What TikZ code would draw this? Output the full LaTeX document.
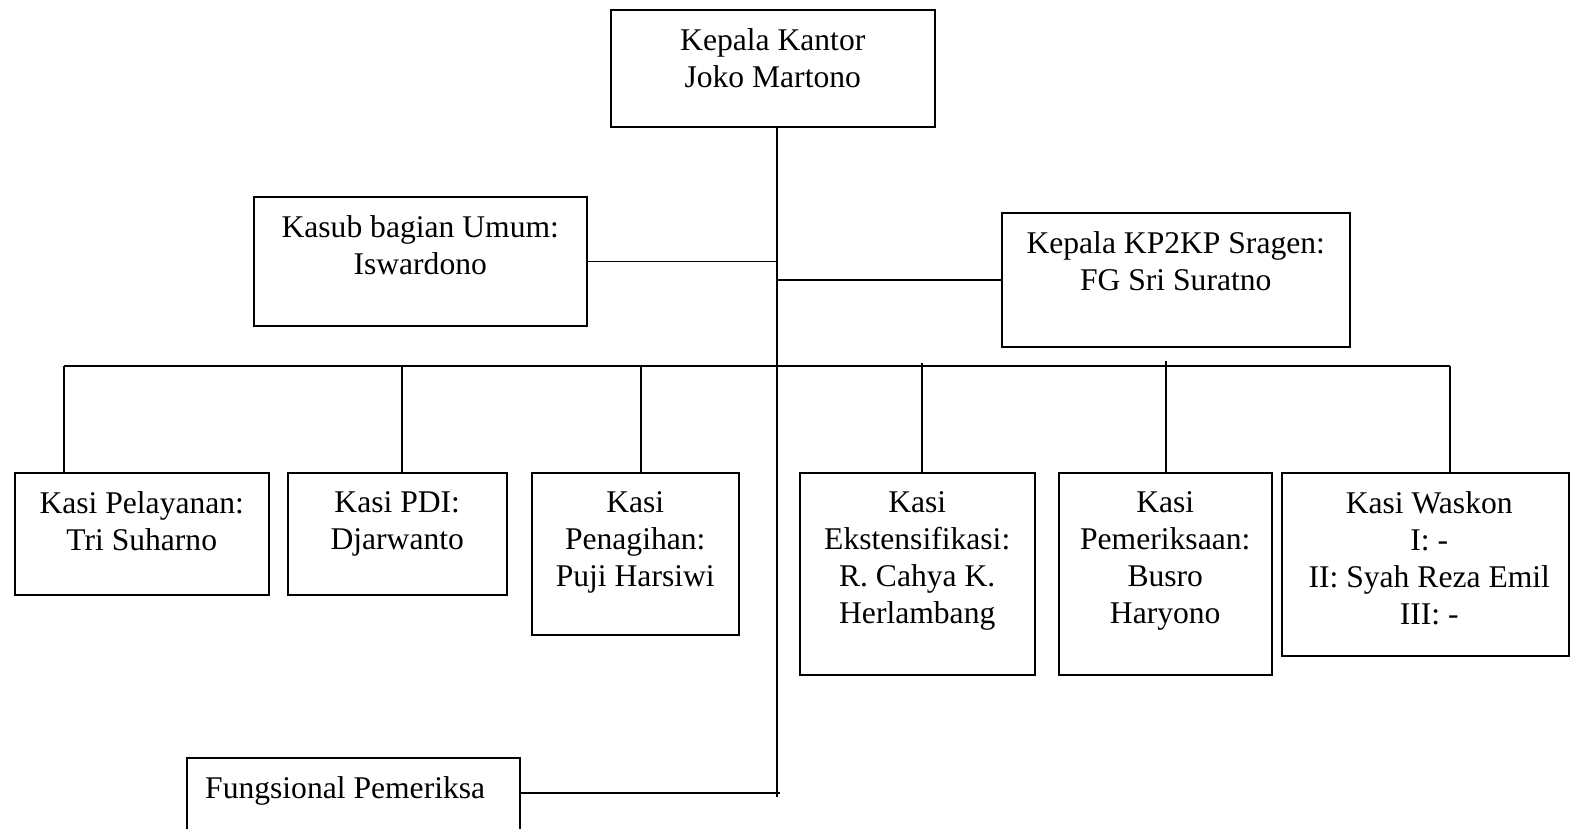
\documentclass[tikz,border=0pt]{standalone}
\usepackage{fontspec}
\setmainfont{Liberation Serif}
\begin{document}
\begin{tikzpicture}[x=1pt,y=-1pt,
  box/.style={draw, line width=1.5pt, rectangle, inner sep=0pt, anchor=north west},
  txt/.style={anchor=north, inner sep=0pt, align=center, yshift=-19pt, font=\fontsize{31.6}{37}\selectfont},
  conn/.style={line width=1.5pt}]
\useasboundingbox (0,0) rectangle (1572,828);
\clip (0,0) rectangle (1572,828);
% boxes
\node[box, minimum width=324pt, minimum height=117pt] (kk) at (610,9) {};
\node[box, minimum width=333pt, minimum height=129pt] (kub) at (253,196) {};
\node[box, minimum width=348pt, minimum height=134pt] (kp) at (1001,212) {};
\node[box, minimum width=254pt, minimum height=122pt] (b1) at (14,472) {};
\node[box, minimum width=219pt, minimum height=122pt] (b2) at (287,472) {};
\node[box, minimum width=207pt, minimum height=162pt] (b3) at (531,472) {};
\node[box, minimum width=235pt, minimum height=202pt] (b4) at (799,472) {};
\node[box, minimum width=213pt, minimum height=202pt] (b5) at (1058,472) {};
\node[box, minimum width=287pt, minimum height=183pt] (b6) at (1281,472) {};
\node[box, minimum width=333pt, minimum height=100pt] (fp) at (186,757) {};
% texts
\node[txt] (tkk) at (kk.north) {Kepala Kantor\\Joko Martono};
\node[txt] (tkub) at (kub.north) {Kasub bagian Umum:\\Iswardono};
\node[txt] (tkp) at (kp.north) {Kepala KP2KP Sragen:\\FG Sri Suratno};
\node[txt] (tb1) at (b1.north) {Kasi Pelayanan:\\Tri Suharno};
\node[txt] (tb2) at (b2.north) {Kasi PDI:\\Djarwanto};
\node[txt] (tb3) at (b3.north) {Kasi\\Penagihan:\\Puji Harsiwi};
\node[txt] (tb4) at (b4.north) {Kasi\\Ekstensifikasi:\\R. Cahya K.\\Herlambang};
\node[txt] (tb5) at (b5.north) {Kasi\\Pemeriksaan:\\Busro\\Haryono};
\node[txt, xshift=4pt] (tb6) at (b6.north) {Kasi Waskon\\I: -\\II: Syah Reza Emil\\III: -};
\node[txt, anchor=north west, xshift=19pt] (tfp) at (fp.north west) {Fungsional Pemeriksa};
% connectors
\coordinate (tr) at (777,797);
\coordinate (fpc) at (780,793);
\coordinate (busL) at (64,366);
\coordinate (busR) at (1450,366);
\coordinate (v2) at (402,366);
\coordinate (v3) at (641,366);
\coordinate (v4) at (922,363);
\coordinate (v5) at (1166,361);
\draw[conn] (tr |- kk.south) -- (tr);
\draw[conn] (kub.east) -- (kub.east -| tr);
\draw[conn] (kp.west) -- (kp.west -| tr);
\draw[conn] (busL) -- (busR);
\draw[conn] (busL) -- (busL |- b1.north);
\draw[conn] (v2) -- (v2 |- b2.north);
\draw[conn] (v3) -- (v3 |- b3.north);
\draw[conn] (v4) -- (v4 |- b4.north);
\draw[conn] (v5) -- (v5 |- b5.north);
\draw[conn] (busR) -- (busR |- b6.north);
\draw[conn] (fpc -| fp.east) -- (fpc);
\end{tikzpicture}
\end{document}
